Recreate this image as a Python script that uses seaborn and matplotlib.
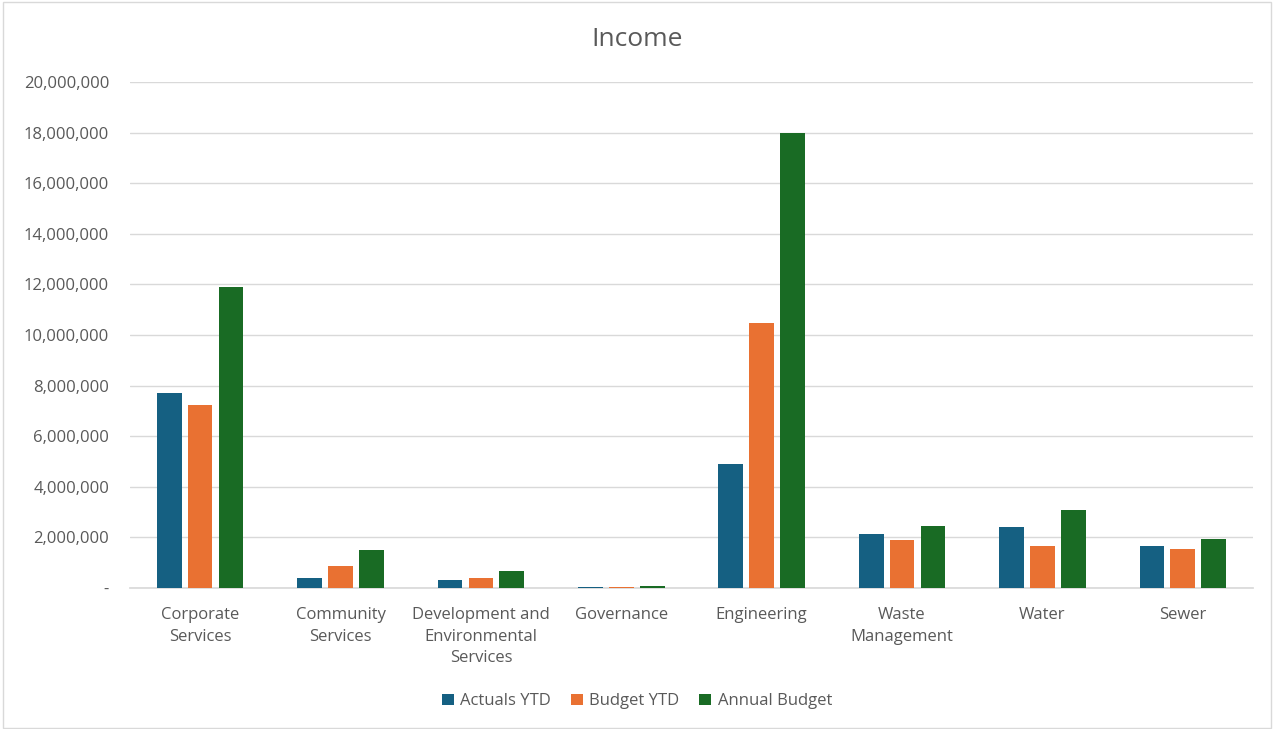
import pandas as pd
import matplotlib
matplotlib.use("Agg")
import matplotlib.pyplot as plt
import matplotlib.ticker as mticker
import seaborn as sns

departments = ["Corporate\nServices", "Community\nServices",
               "Development and\nEnvironmental\nServices", "Governance",
               "Engineering", "Waste\nManagement", "Water", "Sewer"]
actuals_ytd = [7720000, 380000, 330000, 45000, 4920000, 2120000, 2400000, 1670000]
budget_ytd = [7230000, 860000, 380000, 45000, 10490000, 1890000, 1680000, 1530000]
annual_budget = [11910000, 1520000, 670000, 90000, 18000000, 2440000, 3070000, 1950000]
series = ["Actuals YTD", "Budget YTD", "Annual Budget"]
colors = ["#156082", "#E97132", "#196B24"]

rows = []
for name, vals in zip(series, [actuals_ytd, budget_ytd, annual_budget]):
    for d, v in zip(departments, vals):
        rows.append([d, name, v])
df = pd.DataFrame(rows, columns=["Department", "Series", "Value"])

sns.set_theme(style="white")
plt.rcParams["font.family"] = ["Open Sans", "DejaVu Sans"]

fig = plt.figure(figsize=(12.74, 7.29), dpi=100)
ax = fig.add_axes([0.102, 0.1934, 0.8815, 0.6941])

sns.barplot(data=df, x="Department", y="Value", hue="Series", order=departments,
            hue_order=series, palette=colors, saturation=1, width=0.66, gap=0.2,
            linewidth=0, ax=ax)

ax.set_ylim(0, 20000000)
ax.set_xlim(-0.5, len(departments) - 0.5)
ax.yaxis.set_major_locator(mticker.MultipleLocator(2000000))
ax.yaxis.set_major_formatter(mticker.FuncFormatter(
    lambda v, p: "-" if v == 0 else f"{int(v):,}"))
ax.grid(axis="y", color="#d9d9d9", linewidth=1)
ax.set_axisbelow(True)
for s in ["top", "right", "left"]:
    ax.spines[s].set_visible(False)
ax.spines["bottom"].set_color("#d9d9d9")
ax.spines["bottom"].set_zorder(0.5)
ax.tick_params(axis="both", colors="#595959", labelsize=12, length=0)
ax.tick_params(axis="y", pad=15)
ax.tick_params(axis="x", pad=14)
for lbl in ax.get_xticklabels():
    lbl.set_linespacing(1.45)
ax.set_xlabel("")
ax.set_ylabel("")

fig.text(0.5, 0.946, "Income", ha="center", va="center", fontsize=19, color="#595959")

handles, labels = ax.get_legend_handles_labels()
ax.legend_.remove()
fig.legend(handles, labels, loc="center", bbox_to_anchor=(0.5, 0.038), ncol=3,
           frameon=False, fontsize=12, handlelength=0.7, handleheight=0.7,
           columnspacing=1.2, handletextpad=0.4, labelcolor="#595959")

fig.patches.append(plt.Rectangle((0.002, 0.002), 0.996, 0.995, transform=fig.transFigure,
                                 fill=False, edgecolor="#d9d9d9", linewidth=1))

fig.savefig("out.png", dpi=100, facecolor="white")
